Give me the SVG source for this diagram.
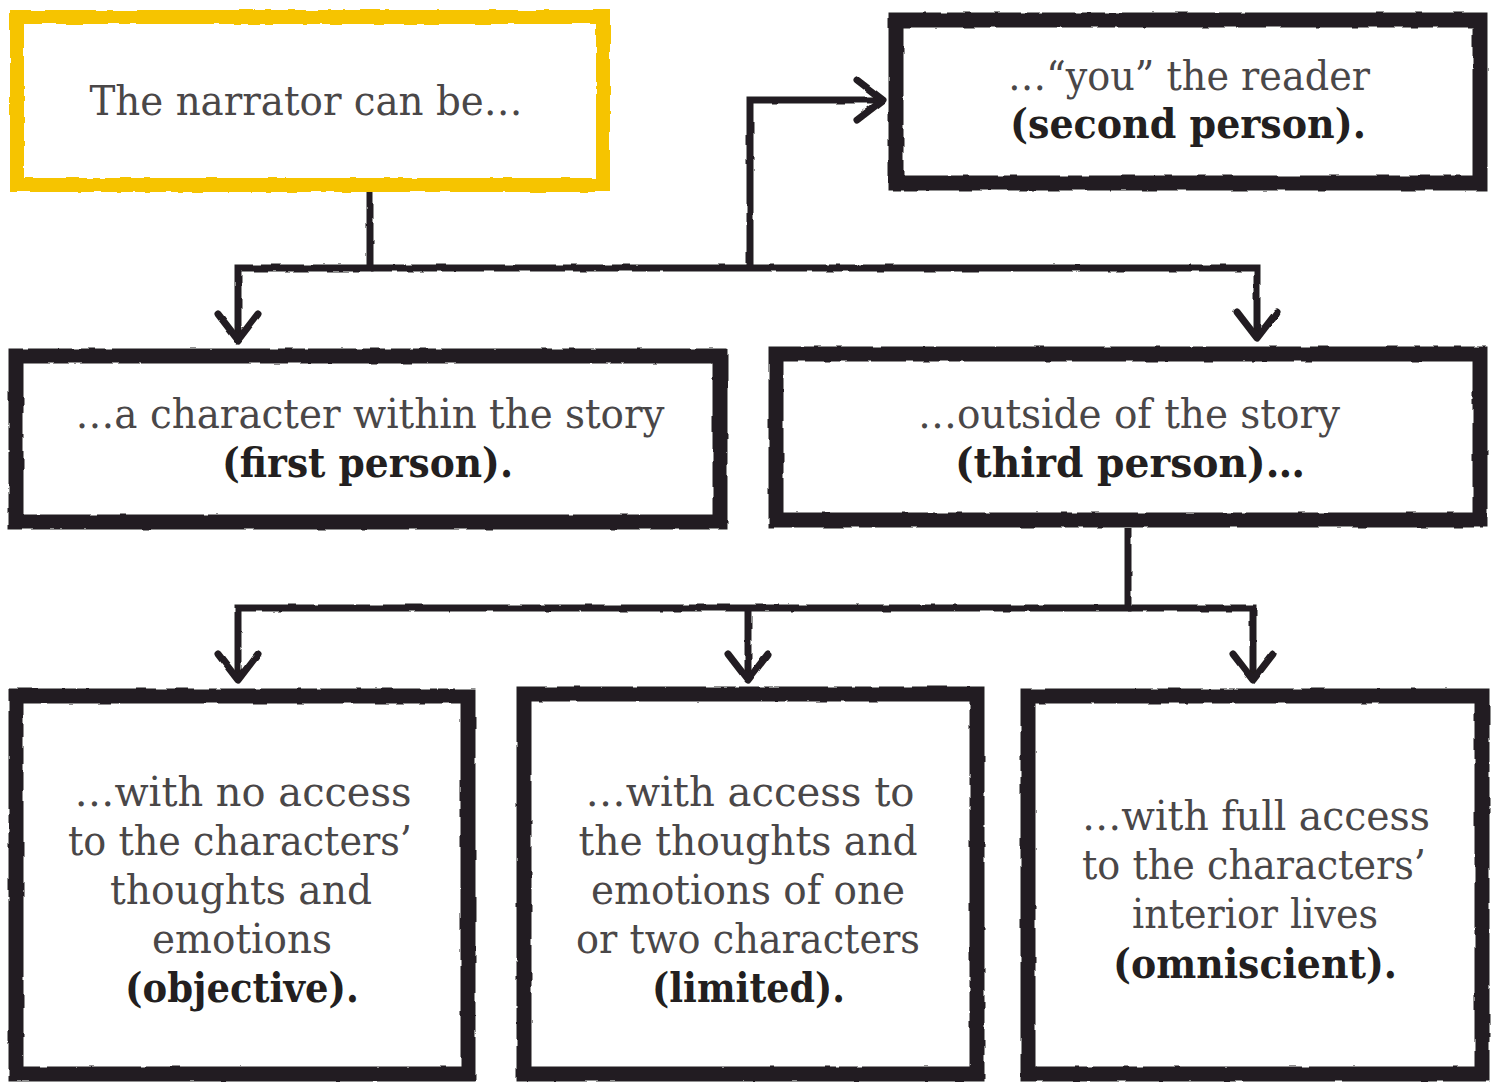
<svg xmlns="http://www.w3.org/2000/svg" width="1497" height="1082" viewBox="0 0 1497 1082">
  <style>
    .box { fill: #ffffff; stroke: #231f20; stroke-width: 15; stroke-linejoin: miter; }
    .ybox { fill: #ffffff; stroke: #f6c400; stroke-width: 14; stroke-linejoin: miter; }
    .conn { fill: none; stroke: #231f20; stroke-width: 7; stroke-linejoin: miter; stroke-linecap: butt; }
    .t { font-family: "DejaVu Serif", "Liberation Serif", serif; font-size: 41px; fill: #4a4748; text-anchor: middle; }
    .b { font-family: "DejaVu Serif", "Liberation Serif", serif; font-size: 41px; font-weight: bold; fill: #231f20; text-anchor: start; }
  </style>
  <defs>
    <filter id="rough" x="-5%" y="-5%" width="110%" height="110%">
      <feTurbulence type="fractalNoise" baseFrequency="0.06" numOctaves="2" seed="3" result="n"/>
      <feDisplacementMap in="SourceGraphic" in2="n" scale="3" xChannelSelector="R" yChannelSelector="G"/>
    </filter>
    <marker id="chev" markerUnits="userSpaceOnUse" viewBox="-36 -28 44 56" refX="0" refY="0" markerWidth="44" markerHeight="56" orient="auto" overflow="visible">
      <path d="M-26,-20 L0,0 L-26,20" fill="none" stroke="#231f20" stroke-width="7" stroke-linecap="round" stroke-linejoin="round"/>
    </marker>
  </defs>

  <rect width="1497" height="1082" fill="#ffffff"/>

  <g id="connectors" filter="url(#rough)">
    <path class="conn" d="M370,192 V268 H238 V340" marker-end="url(#chev)"/>
    <path class="conn" d="M370,268 H1257 V338" marker-end="url(#chev)"/>
    <path class="conn" d="M750,268 V100 H883" marker-end="url(#chev)"/>
    <path class="conn" d="M1128,528 V608 H238 V680" marker-end="url(#chev)"/>
    <path class="conn" d="M748,608 V680" marker-end="url(#chev)"/>
    <path class="conn" d="M1128,608 H1253 V680" marker-end="url(#chev)"/>
  </g>

  <g id="node-narrator">
    <rect class="ybox" x="17" y="17" width="586" height="168" filter="url(#rough)"/>
    <text class="t" x="306" y="115" textLength="433" lengthAdjust="spacingAndGlyphs">The narrator can be…</text>
  </g>

  <g id="node-second">
    <rect class="box" x="896" y="20" width="584" height="163" filter="url(#rough)"/>
    <text class="t" x="1189" y="90" textLength="362" lengthAdjust="spacingAndGlyphs">…“you” the reader</text>
    <text class="b" x="1010" y="138" textLength="356" lengthAdjust="spacingAndGlyphs">(second person).</text>
  </g>

  <g id="node-first">
    <rect class="box" x="16" y="356" width="704" height="166" filter="url(#rough)"/>
    <text class="t" x="370" y="428" textLength="589" lengthAdjust="spacingAndGlyphs">…a character within the story</text>
    <text class="b" x="222" y="477" textLength="291" lengthAdjust="spacingAndGlyphs">(first person).</text>
  </g>

  <g id="node-third">
    <rect class="box" x="776" y="354" width="704" height="166" filter="url(#rough)"/>
    <text class="t" x="1129" y="428" textLength="422" lengthAdjust="spacingAndGlyphs">…outside of the story</text>
    <text class="b" x="955" y="477" textLength="350" lengthAdjust="spacingAndGlyphs">(third person)…</text>
  </g>

  <g id="node-objective">
    <rect class="box" x="16" y="696" width="452" height="378" filter="url(#rough)"/>
    <text class="t" x="243" y="806" textLength="337" lengthAdjust="spacingAndGlyphs">…with no access</text>
    <text class="t" x="240" y="855" textLength="344" lengthAdjust="spacingAndGlyphs">to the characters’</text>
    <text class="t" x="241" y="904" textLength="262" lengthAdjust="spacingAndGlyphs">thoughts and</text>
    <text class="t" x="242" y="953" textLength="180" lengthAdjust="spacingAndGlyphs">emotions</text>
    <text class="b" x="125" y="1002" textLength="234" lengthAdjust="spacingAndGlyphs">(objective).</text>
  </g>

  <g id="node-limited">
    <rect class="box" x="524" y="694" width="453" height="380" filter="url(#rough)"/>
    <text class="t" x="750" y="806" textLength="329" lengthAdjust="spacingAndGlyphs">…with access to</text>
    <text class="t" x="748" y="855" textLength="339" lengthAdjust="spacingAndGlyphs">the thoughts and</text>
    <text class="t" x="748" y="904" textLength="314" lengthAdjust="spacingAndGlyphs">emotions of one</text>
    <text class="t" x="748" y="953" textLength="344" lengthAdjust="spacingAndGlyphs">or two characters</text>
    <text class="b" x="652" y="1002" textLength="193" lengthAdjust="spacingAndGlyphs">(limited).</text>
  </g>

  <g id="node-omniscient">
    <rect class="box" x="1028" y="696" width="454" height="378" filter="url(#rough)"/>
    <text class="t" x="1256" y="830" textLength="348" lengthAdjust="spacingAndGlyphs">…with full access</text>
    <text class="t" x="1254" y="879" textLength="344" lengthAdjust="spacingAndGlyphs">to the characters’</text>
    <text class="t" x="1255" y="928" textLength="246" lengthAdjust="spacingAndGlyphs">interior lives</text>
    <text class="b" x="1113" y="978" textLength="284" lengthAdjust="spacingAndGlyphs">(omniscient).</text>
  </g>
</svg>
